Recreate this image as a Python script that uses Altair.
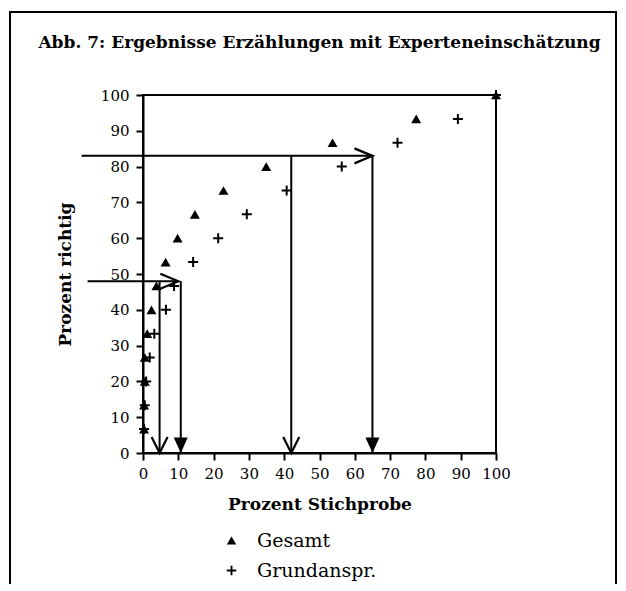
import altair as alt
import pandas as pd

# ---- data ----
levels = [6.67, 13.33, 20, 26.67, 33.33, 40, 46.67, 53.33, 60, 66.67, 73.33, 80, 86.67, 93.33, 100]
gesamt_x = [0.3, 0.3, 0.5, 0.5, 1.2, 2.4, 3.8, 6.4, 9.8, 14.7, 22.8, 34.9, 53.7, 77.4, 100]
grund_x = [0.3, 0.5, 0.9, 1.9, 3.2, 6.5, 8.8, 14.2, 21.3, 29.4, 40.7, 56.3, 72.1, 89.2, 100]
series_names = ["Gesamt", "Grundanspr."]

# reading lines (x1, y1, x2, y2)
line_x1 = [-17.4, 42, 65, -15.7, 4.7, 10.7]
line_y1 = [83, 83, 83, 48, 48, 48]
line_x2 = [65, 42, 65, 10.0, 4.7, 10.7]
line_y2 = [83, 0, 0, 48, 0, 0]

# arrow heads (tip positions)
head_x = [4.7, 42, 10.7, 65, 65, 10.0]
head_y = [0, 0, 0, 0, 83, 48]
head_kind = ["open_down", "open_down", "filled_down", "filled_down", "open_right", "open_right"]

ticks = list(range(0, 101, 10))

FONT = "DejaVu Serif"

pts = pd.DataFrame({
    "x": gesamt_x + grund_x,
    "y": levels + levels,
    "series": [series_names[0]] * len(levels) + [series_names[1]] * len(levels),
})
lines = pd.DataFrame({"x1": line_x1, "y1": line_y1, "x2": line_x2, "y2": line_y2})
heads = pd.DataFrame({"x": head_x, "y": head_y, "kind": head_kind})

xs = alt.Scale(domain=[0, 100], nice=False, zero=False)
ys = alt.Scale(domain=[0, 100], nice=False, zero=False)

x_axis = alt.Axis(values=ticks, title="Prozent Stichprobe", titlePadding=15, labelPadding=6,
                  labelOverlap=False, labelFlush=False, tickCount=11)
y_axis = alt.Axis(values=ticks, title="Prozent richtig", titlePadding=26, labelPadding=7,
                  labelOverlap=False, labelFlush=False, tickCount=11)


def X(field):
    return alt.X(field, type="quantitative", scale=xs, axis=x_axis)


def Y(field):
    return alt.Y(field, type="quantitative", scale=ys, axis=y_axis)


plus_path = "M-1,-0.2H-0.2V-1H0.2V-0.2H1V0.2H0.2V1H-0.2V0.2H-1Z"

points = alt.Chart(pts).mark_point(filled=True, color="black", size=100, opacity=1).encode(
    x=X("x"),
    y=Y("y"),
    shape=alt.Shape(
        "series:N",
        scale=alt.Scale(domain=series_names, range=["triangle-up", plus_path]),
        legend=alt.Legend(
            title=None, orient="none", legendX=79, legendY=436,
            labelFont=FONT, labelFontSize=19, labelColor="black",
            symbolSize=90, symbolFillColor="black", symbolStrokeColor="black",
            labelOffset=16, rowPadding=10,
        ),
    ),
)

rules = alt.Chart(lines).mark_rule(color="black", strokeWidth=2).encode(
    x=X("x1"), y=Y("y1"),
    x2="x2:Q", y2="y2:Q",
)

open_down = alt.Chart(heads).transform_filter(alt.datum.kind == "open_down").mark_point(
    shape="M-1,-2L0,0L1,-2", filled=False, color="black", strokeWidth=2.2, size=256, opacity=1
).encode(x=X("x"), y=Y("y"))

filled_down = alt.Chart(heads).transform_filter(alt.datum.kind == "filled_down").mark_point(
    shape="M-1,-2.2L0,0L1,-2.2Z", filled=True, color="black", size=196, opacity=1
).encode(x=X("x"), y=Y("y"))

open_right = alt.Chart(heads).transform_filter(alt.datum.kind == "open_right").mark_point(
    shape="M-2.4,-1L0,0L-2.4,1", filled=False, color="black", strokeWidth=2.2, size=225, opacity=1
).encode(x=X("x"), y=Y("y"))

border = alt.Chart(pd.DataFrame({"a": [0]})).mark_rect(
    fill=None, stroke="black", strokeWidth=2
).encode(
    x=alt.value(-133), x2=alt.value(473), y=alt.value(-83), y2=alt.value(560)
)

chart = alt.layer(border, rules, open_down, filled_down, open_right, points).properties(
    width=353, height=358,
    title=alt.TitleParams(
        "Abb. 7: Ergebnisse Erzählungen mit Experteneinschätzung",
        font=FONT, fontSize=17, fontWeight="bold", color="black", anchor="middle",
        offset=0, dy=41,
    ),
    autosize=alt.AutoSizeParams(type="none"),
    padding={"left": 135, "top": 87, "right": 121, "bottom": 131},
).configure(background="white").configure_view(stroke="black", strokeWidth=2).configure_axis(
    grid=False, domainColor="black", domainWidth=2, tickColor="black", tickWidth=2,
    tickSize=7, labelFont=FONT, labelFontSize=15, labelColor="black",
    titleFont=FONT, titleFontSize=17, titleFontWeight="bold", titleColor="black",
)

chart.save("out.html", embed_options={"renderer": "svg", "actions": False})
